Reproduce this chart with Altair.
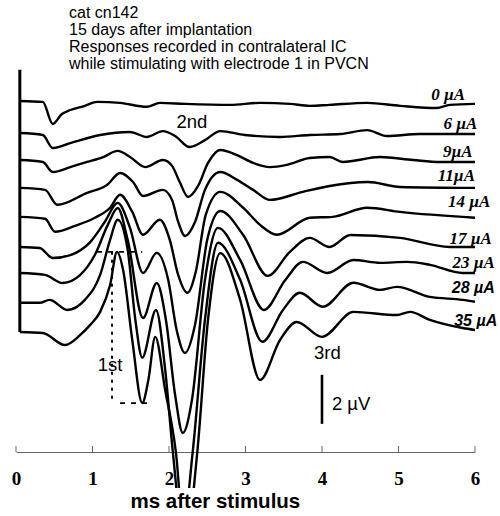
import altair as alt
import pandas as pd

# Stimulus currents (one evoked-potential trace each), top to bottom
currents = ["0 µA", "6 µA", "9µA", "11µA", "14 µA", "17 µA", "23 µA", "28 µA", "35 µA"]
# vertical stacking offset of each trace baseline (µV)
offsets = [0.00, -1.31, -2.41, -3.55, -4.73, -5.96, -7.02, -8.24, -9.43]

# (time in ms, potential in µV relative to the trace baseline)
trace_0 = [(0.05, 0.00), (0.35, -0.04), (0.48, -0.94), (0.60, -0.53), (0.71, -0.37), (0.90, -0.20),
           (1.06, -0.04), (1.36, -0.08), (1.71, -0.24), (1.88, -0.08), (2.21, -0.12), (2.80, -0.16),
           (3.19, -0.08), (3.58, -0.12), (3.84, -0.20), (4.10, -0.16), (4.59, -0.08), (5.02, -0.20),
           (5.50, -0.29), (5.67, -0.16), (6.00, -0.12)]
trace_6 = [(0.05, 0.00), (0.35, -0.08), (0.48, -0.61), (0.71, -0.41), (1.10, -0.08), (1.49, 0.04),
           (1.71, -0.16), (1.92, 0.08), (2.08, -0.12), (2.27, -0.57), (2.47, -0.29), (2.67, 0.08),
           (2.99, -0.08), (3.45, -0.16), (3.84, -0.08), (4.24, -0.04), (4.59, 0.12), (4.85, -0.12),
           (5.28, -0.04), (6.00, -0.04)]
trace_9 = [(0.05, 0.00), (0.35, -0.08), (0.48, -0.49), (0.71, -0.29), (0.93, -0.08), (1.14, 0.12),
           (1.33, 0.37), (1.49, 0.12), (1.69, -0.29), (1.92, 0.00), (2.04, -0.24), (2.14, -0.90),
           (2.25, -1.51), (2.38, -1.06), (2.51, -0.12), (2.67, 0.41), (2.89, 0.20), (3.10, -0.12),
           (3.32, -0.29), (3.54, -0.20), (3.84, 0.08), (4.10, 0.12), (4.27, -0.08), (4.76, 0.12),
           (5.19, 0.00), (5.54, -0.08), (6.00, -0.08)]
trace_11 = [(0.05, 0.00), (0.38, -0.08), (0.54, -0.69), (0.93, -0.20), (1.19, 0.12), (1.36, 0.61),
            (1.53, 0.24), (1.66, -0.33), (1.92, -0.08), (2.04, -0.49), (2.12, -1.39), (2.21, -1.96),
            (2.34, -1.39), (2.47, -0.08), (2.67, 0.65), (2.89, 0.33), (3.10, -0.08), (3.32, -0.49),
            (3.75, -0.16), (4.10, 0.08), (4.60, 0.24), (5.02, 0.04), (6.00, 0.00)]
trace_14 = [(0.05, 0.00), (0.38, -0.08), (0.51, -0.61), (0.77, -0.37), (1.03, -0.04), (1.23, 0.37),
            (1.36, 0.90), (1.52, 0.20), (1.66, -0.73), (1.88, -0.12), (2.01, -0.94), (2.12, -2.37),
            (2.24, -3.10), (2.35, -2.24), (2.48, 0.08), (2.67, 1.02), (2.97, 0.37), (3.19, -0.33),
            (3.41, -0.73), (3.84, -0.04), (4.14, 0.00), (4.59, 0.37), (5.02, 0.20), (6.00, -0.04)]
trace_17 = [(0.05, 0.00), (0.31, -0.04), (0.48, -0.45), (0.71, -0.33), (0.97, 0.20), (1.16, 1.02),
            (1.33, 1.80), (1.49, 0.78), (1.66, -1.06), (1.84, -0.24), (1.99, -1.35), (2.10, -3.39),
            (2.21, -4.33), (2.34, -3.18), (2.50, 0.29), (2.67, 1.47), (2.97, 0.49), (3.29, -1.18),
            (3.58, -0.20), (3.84, 0.37), (4.10, 0.00), (4.37, 0.49), (5.02, 0.37), (5.67, 0.00),
            (6.00, 0.00)]
trace_23 = [(0.05, 0.00), (0.38, -0.08), (0.61, -0.41), (0.84, -0.08), (1.03, 0.73), (1.20, 1.96),
            (1.33, 2.65), (1.46, 1.35), (1.66, -1.84), (1.84, -0.41), (1.96, -1.92), (2.08, -4.98),
            (2.18, -6.53), (2.30, -5.18), (2.47, -0.29), (2.64, 1.84), (2.93, 0.53), (3.24, -1.51),
            (3.52, -0.29), (3.75, 0.45), (4.07, 0.00), (4.41, 0.53), (4.76, 0.41), (5.11, 0.45),
            (5.41, 0.33), (5.84, 0.00), (6.00, 0.00)]
trace_28 = [(0.05, 0.00), (0.31, 0.00), (0.44, 0.12), (0.67, -0.29), (0.90, 0.12), (1.10, 1.14),
            (1.23, 2.57), (1.33, 3.39), (1.46, 2.16), (1.56, -0.69), (1.65, -2.24), (1.83, -0.29),
            (1.95, -2.73), (2.05, -6.08), (2.18, -9.27), (2.31, -6.08), (2.47, -0.69), (2.64, 2.45),
            (2.93, 0.94), (3.22, -1.59), (3.49, -0.29), (3.71, 0.41), (4.01, -0.16), (4.41, 0.82),
            (4.76, 0.53), (4.98, 0.65), (5.41, 0.24), (5.84, 0.12), (6.00, 0.04)]
trace_35 = [(0.05, 0.00), (0.35, -0.04), (0.64, -0.53), (0.84, -0.12), (0.97, 0.29), (1.10, 0.82),
            (1.23, 1.92), (1.32, 3.27), (1.40, 2.53), (1.52, -0.33), (1.65, -2.90), (1.73, -1.96),
            (1.82, -0.20), (1.95, -2.37), (2.09, -4.90), (2.21, -8.69), (2.37, -4.90), (2.51, 0.49),
            (2.67, 3.22), (2.93, 1.31), (3.19, -1.96), (3.45, -0.33), (3.67, 0.41), (4.00, -0.20),
            (4.41, 0.82), (4.98, 0.69), (5.15, 0.82), (5.41, 0.49), (5.84, 0.16), (6.00, 0.08)]

traces = [trace_0, trace_6, trace_9, trace_11, trace_14, trace_17, trace_23, trace_28, trace_35]

x_ticks = [0, 1, 2, 3, 4, 5, 6]

header_lines = ["cat cn142", "15 days after implantation",
                "Responses recorded in contralateral IC",
                "while stimulating with electrode 1 in PVCN"]

# label anchor (right edge time, absolute µV) for each current label
label_pos = [(5.87, 0.04), (6.03, -1.14), (5.97, -2.29), (6.00, -3.27), (6.20, -4.33),
             (6.22, -5.84), (6.26, -6.82), (6.26, -7.84), (6.29, -9.18)]

scale_bar_uv = 2.0

# ---------------------------------------------------------------- tables
rows = []
for name, off, tr in zip(currents, offsets, traces):
    for t, v in tr:
        rows.append({"trace": name, "t": t, "v": v + off})
df = pd.DataFrame(rows)

PX_PER_UV = 24.5
W = 459
AXIS_Y = 452          # pixel row of the time axis
H = 488               # plotting frame (traces are cut off at its lower edge)
V_TOP = 4.12
xs = alt.Scale(domain=[0, 6], nice=False, zero=False)
ys = alt.Scale(domain=[V_TOP - H / PX_PER_UV, V_TOP], nice=False, zero=False)

# one shared time axis object so every layer merges into the same axis
x_axis = alt.Axis(values=x_ticks, title="ms after stimulus", ticks=False, grid=False,
                  offset=AXIS_Y - H,
                  domainColor="#666", domainWidth=1,
                  labelFont="Liberation Serif", labelFontWeight="bold",
                  labelFontSize=19, labelColor="black", labelPadding=17,
                  labelFlush=False, titleFont="Liberation Sans",
                  titleFontWeight="bold", titleFontSize=20.5, titleColor="black",
                  titleX=114, titleY=55, titleAlign="left", titleBaseline="alphabetic")


def X(field):
    return alt.X(field, scale=xs, axis=x_axis)


def Y(field):
    return alt.Y(field, scale=ys, axis=None)


lines = alt.Chart(df).mark_line(interpolate="monotone", color="black", strokeWidth=2.4,
                                strokeJoin="round", clip=True).encode(
    x=X("t:Q"), y=Y("v:Q"), detail="trace:N")

# stimulus-artifact bar at the start of all traces
art = pd.DataFrame({"t": [0.05], "y1": [offsets[0] + 1.27], "y2": [offsets[-1]]})
art_bar = alt.Chart(art).mark_rule(color="black", strokeWidth=3).encode(
    x=X("t:Q"), y=Y("y1:Q"), y2="y2:Q")

# amplitude measurement of the 1st wave on the 35 µA trace
peak35 = offsets[-1] + max(v for t, v in trace_35 if t < 1.5)
trough35 = offsets[-1] + min(v for t, v in trace_35 if 1.5 < t < 1.8)
vdot = pd.DataFrame({"t": [1.255], "y1": [peak35], "y2": [trough35]})
vdot_rule = alt.Chart(vdot).mark_rule(color="black", strokeWidth=2, strokeDash=[3, 5]).encode(
    x=X("t:Q"), y=Y("y1:Q"), y2="y2:Q")
hdash = pd.DataFrame({"t": [1.06, 1.36], "t2": [1.65, 1.79], "y": [peak35, trough35]})
hdash_rule = alt.Chart(hdash).mark_rule(color="black", strokeWidth=1.8, strokeDash=[5, 6]).encode(
    x=X("t:Q"), x2="t2:Q", y=Y("y:Q"))

# 2 µV scale bar
sb = pd.DataFrame({"t": [4.0], "y1": [-11.18], "y2": [-11.18 - scale_bar_uv]})
sb_rule = alt.Chart(sb).mark_rule(color="black", strokeWidth=2.6).encode(
    x=X("t:Q"), y=Y("y1:Q"), y2="y2:Q")

# upward tick marks on the time axis
tk = pd.DataFrame({"t": x_ticks})
tick_rules = alt.Chart(tk).mark_rule(color="#666", strokeWidth=1).encode(
    x=X("t:Q"), y=alt.value(AXIS_Y - 6), y2=alt.value(AXIS_Y))

# header text
hd = pd.DataFrame({"t": [0.693] * 4, "v": [3.39, 2.69, 1.98, 1.31], "text": header_lines})
header = alt.Chart(hd).mark_text(font="Liberation Sans", fontSize=16, align="left",
                                 baseline="alphabetic", color="black").encode(
    x=X("t:Q"), y=Y("v:Q"), text="text:N")

# current labels
lab = pd.DataFrame({"t": [p[0] for p in label_pos], "v": [p[1] for p in label_pos],
                    "text": currents})
serif_labels = alt.Chart(lab.iloc[:7]).mark_text(
    font="Liberation Serif", fontSize=17, fontStyle="italic", fontWeight="bold",
    align="right", baseline="alphabetic", color="black").encode(
    x=X("t:Q"), y=Y("v:Q"), text="text:N")
sans_labels = alt.Chart(lab.iloc[7:]).mark_text(
    font="Liberation Sans", fontSize=16, fontStyle="italic", fontWeight="bold",
    align="right", baseline="alphabetic", color="black").encode(
    x=X("t:Q"), y=Y("v:Q"), text="text:N")

# wave names and scale-bar label
ann = pd.DataFrame({"t": [2.30, 4.07, 1.23, 4.13], "v": [-1.10, -10.53, -11.02, -12.61],
                    "text": ["2nd", "3rd", "1st", "2 µV"]})
ann_c = alt.Chart(ann.iloc[:3]).mark_text(font="Liberation Sans", fontSize=18.5, align="center",
                                          baseline="alphabetic", color="black").encode(
    x=X("t:Q"), y=Y("v:Q"), text="text:N")
ann_l = alt.Chart(ann.iloc[3:]).mark_text(font="Liberation Sans", fontSize=18.5, align="left",
                                          baseline="alphabetic", color="black").encode(
    x=X("t:Q"), y=Y("v:Q"), text="text:N")

chart = alt.layer(lines, art_bar, vdot_rule, hdash_rule, sb_rule, tick_rules, header,
                  serif_labels, sans_labels, ann_c, ann_l).properties(
    width=W, height=H,
    autosize=alt.AutoSizeParams(type="none"),
    padding={"left": 16, "right": 25, "top": 0, "bottom": 516 - H},
    background="white",
).configure_view(stroke=None)

chart.save("out.html", embed_options={"renderer": "svg", "actions": False})
